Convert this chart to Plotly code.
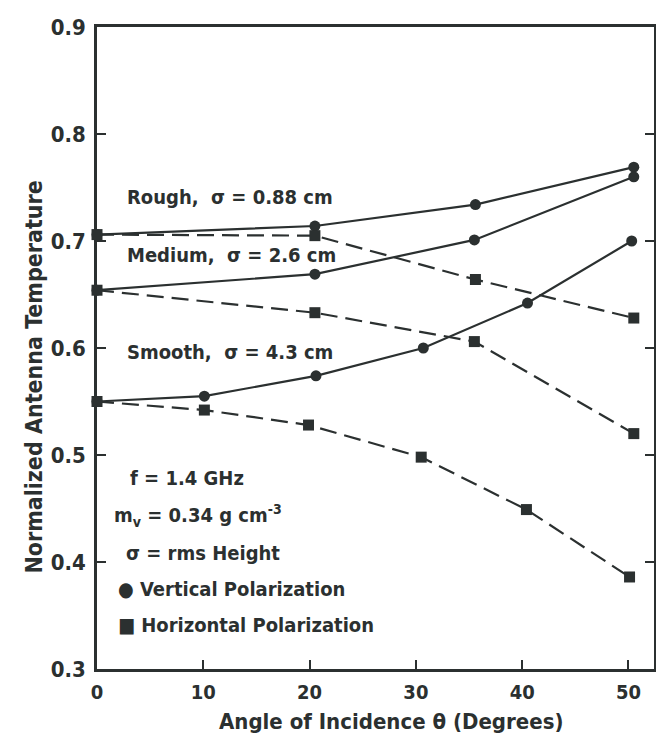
import plotly.graph_objects as go

# ---- data ----
rough_x = [0, 20.5, 35.6, 50.5]
rough_v = [0.706, 0.714, 0.734, 0.769]
rough_h = [0.706, 0.705, 0.664, 0.628]

medium_x = [0, 20.5, 35.5, 50.5]
medium_v = [0.654, 0.669, 0.701, 0.760]
medium_h = [0.654, 0.633, 0.606, 0.520]

smooth_vx = [0, 10.1, 20.6, 30.7, 40.5, 50.3]
smooth_v = [0.550, 0.555, 0.574, 0.600, 0.642, 0.700]
smooth_hx = [0, 10.1, 19.9, 30.5, 40.4, 50.1]
smooth_h = [0.550, 0.542, 0.528, 0.498, 0.449, 0.386]

x_ticks = [0, 10, 20, 30, 40, 50]
y_ticks = [0.3, 0.4, 0.5, 0.6, 0.7, 0.8, 0.9]
y_ticklabels = ["0.3", "0.4", "0.5", "0.6", "0.7", "0.8", "0.9"]

INK = "#2b3030"
FONT = "DejaVu Sans Condensed, Liberation Sans Narrow, Roboto, sans-serif"

fig = go.Figure()


def add_series(x, y, dashed):
    fig.add_trace(go.Scatter(
        x=x, y=y, mode="lines+markers",
        line=dict(color=INK, width=2.2, dash="17px,8px" if dashed else "solid"),
        marker=dict(symbol="square" if dashed else "circle", size=11, color=INK),
        showlegend=False, hoverinfo="skip", cliponaxis=False,
    ))


add_series(rough_x, rough_v, False)
add_series(rough_x, rough_h, True)
add_series(medium_x, medium_v, False)
add_series(medium_x, medium_h, True)
add_series(smooth_vx, smooth_v, False)
add_series(smooth_hx, smooth_h, True)

# page-pixel layout (the page body adds an 8px offset)
OFF = 8
L, R, T, B = 97, 657, 22, 669
W, H = 664 - OFF, 736 - OFF


def px(xp):
    return (xp - L) / (R - L)


def py(yp):
    return (B - yp) / (B - T)


notes = [
    (125, 193, "Rough,  σ = 0.88 cm"),
    (125, 252, "Medium,  σ = 2.6 cm"),
    (125, 350, "Smooth,  σ = 4.3 cm"),
    (128, 477, "f = 1.4 GHz"),
    (112, 514, "m<sub>v</sub> = 0.34 g cm<sup>-3</sup>"),
    (124, 552, "σ = rms Height"),
    (116, 588, "● Vertical Polarization"),
    (116, 625, "■ Horizontal Polarization"),
]
for xp, yp, t in notes:
    fig.add_annotation(x=px(xp), y=py(yp), xref="paper", yref="paper",
                       text=t, showarrow=False, xanchor="left", yanchor="middle",
                       font=dict(family=FONT, size=20, color=INK, weight="bold"))

# axis titles
fig.add_annotation(x=px(393), y=py(722), xref="paper", yref="paper",
                   text="Angle of Incidence θ (Degrees)", showarrow=False,
                   xanchor="center", yanchor="middle",
                   font=dict(family=FONT, size=22, color=INK, weight="bold"))
fig.add_annotation(x=px(34), y=py(375), xref="paper", yref="paper",
                   text="Normalized Antenna Temperature", showarrow=False,
                   textangle=-90, xanchor="center", yanchor="middle",
                   font=dict(family=FONT, size=23, color=INK, weight="bold"))

fig.update_layout(
    width=W, height=H,
    margin=dict(l=L - OFF, r=W - (R - OFF), t=T - OFF, b=H - (B - OFF)),
    paper_bgcolor="white", plot_bgcolor="white",
    font=dict(family=FONT, color=INK),
    xaxis=dict(
        range=[0, 52.4], tickvals=x_ticks, ticks="inside", ticklen=9, tickwidth=2,
        tickcolor=INK, showline=True, linecolor=INK, linewidth=2.5, mirror=True,
        showgrid=False, zeroline=False,
        tickfont=dict(size=20, family=FONT, color=INK, weight="bold"),
        ticklabelstandoff=3,
    ),
    yaxis=dict(
        range=[0.3, 0.9], tickvals=y_ticks, ticktext=y_ticklabels, ticks="inside",
        ticklen=9, tickwidth=2, tickcolor=INK, showline=True, linecolor=INK,
        linewidth=2.5, mirror="ticks", showgrid=False, zeroline=False,
        tickfont=dict(size=22, family=FONT, color=INK, weight="bold"), ticklabelstandoff=4,
    ),
)

fig.write_html("out.html")
